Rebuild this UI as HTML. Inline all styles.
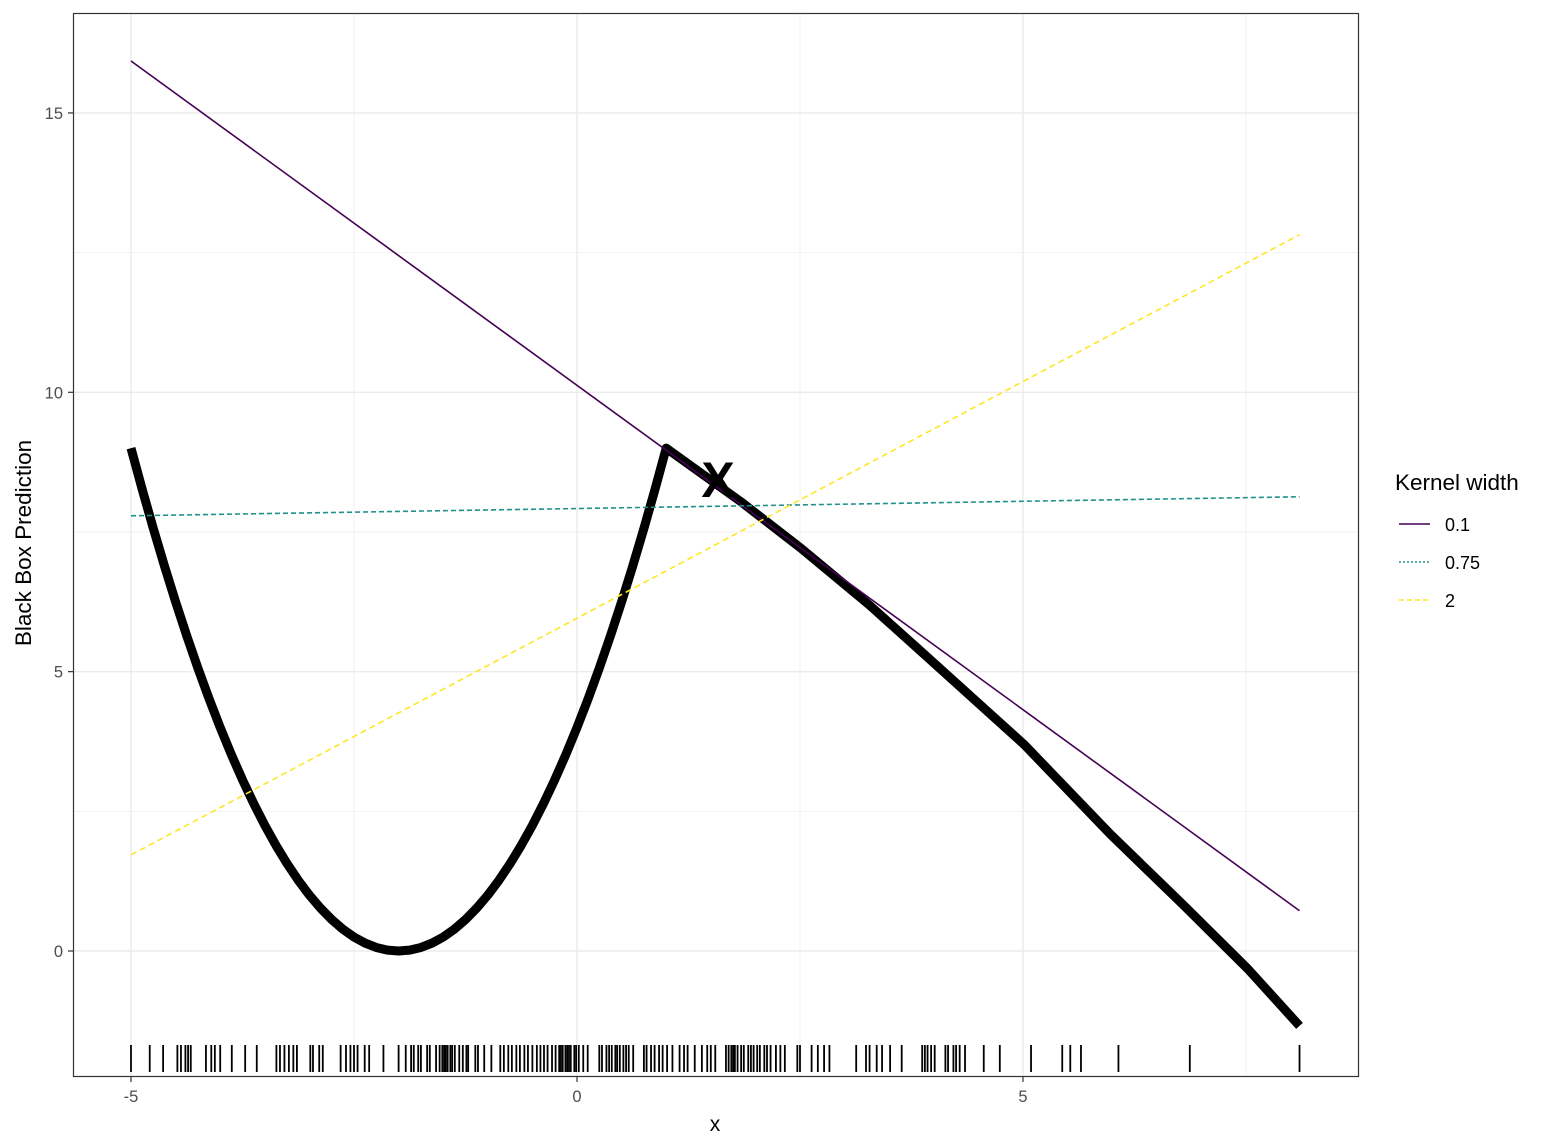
<!DOCTYPE html>
<html><head><meta charset="utf-8"><style>
body{margin:0;background:#fff;}
svg{display:block;font-family:"Liberation Sans",Arial,sans-serif;}
</style></head><body>
<svg id="chart" width="1554" height="1148">
<g id="grid"></g>
<g id="series"></g>
<g id="rug"></g>
<rect x="73.5" y="13.5" width="1285" height="1063" fill="none" stroke="#333" stroke-width="1.2"/>
<g id="axes"></g>
<text x="718" y="497" font-size="50" font-weight="bold" text-anchor="middle" fill="#000">X</text>
<text x="715" y="1131" font-size="21" text-anchor="middle" fill="#000">x</text>
<text transform="translate(31,543) rotate(-90)" font-size="22.5" text-anchor="middle" fill="#000">Black Box Prediction</text>
<g>
<text x="1395" y="490" font-size="22.5" fill="#000">Kernel width</text>
<g><line x1="1399" y1="524" x2="1430" y2="524" stroke="#440154" stroke-width="1.6"/><text x="1445" y="531" font-size="18">0.1</text></g>
<g><line x1="1399" y1="562" x2="1430" y2="562" stroke="#21908C" stroke-width="1.6" stroke-dasharray="2,2"/><text x="1445" y="569" font-size="18">0.75</text></g>
<g><line x1="1399" y1="600" x2="1430" y2="600" stroke="#FDE725" stroke-width="1.6" stroke-dasharray="5,3"/><text x="1445" y="607" font-size="18">2</text></g>
</g>
</svg>
<script>
const xTicks=[-5,0,5];
const xMinor=[-2.5,2.5,7.5];
const yTicks=[0,5,10,15];
const yMinor=[2.5,7.5,12.5];
const bbX=[-5,-4.875,-4.75,-4.625,-4.5,-4.375,-4.25,-4.125,-4,-3.875,-3.75,-3.625,-3.5,-3.375,-3.25,-3.125,-3,-2.875,-2.75,-2.625,-2.5,-2.375,-2.25,-2.125,-2,-1.875,-1.75,-1.625,-1.5,-1.375,-1.25,-1.125,-1,-0.875,-0.75,-0.625,-0.5,-0.375,-0.25,-0.125,0,0.125,0.25,0.375,0.5,0.625,0.75,0.875,1,1.83,2.51,3.28,3.9,5.01,5.98,6.8,7.52,8.1];
const bbY=[9,8.266,7.563,6.891,6.25,5.641,5.063,4.516,4,3.516,3.063,2.641,2.25,1.891,1.563,1.266,1,0.766,0.563,0.391,0.25,0.141,0.063,0.016,0,0.016,0.063,0.141,0.25,0.391,0.563,0.766,1,1.266,1.563,1.891,2.25,2.641,3.063,3.516,4,4.516,5.063,5.641,6.25,6.891,7.563,8.266,9,8.05,7.21,6.19,5.3,3.7,2.09,0.82,-0.32,-1.34];
const lineStartX=[-5,-5,-5];
const lineEndX=[8.1,8.1,8.1];
const lineStartY=[15.93,7.79,1.72];
const lineEndY=[0.72,8.13,12.82];
const widths=['0.1','0.75','2'];
const rugX=[-5.00,-4.79,-4.64,-4.48,-4.44,-4.39,-4.36,-4.33,-4.16,-4.10,-4.06,-4.00,-3.87,-3.72,-3.59,-3.37,-3.33,-3.28,-3.23,-3.18,-3.14,-2.99,-2.96,-2.89,-2.85,-2.65,-2.59,-2.54,-2.50,-2.46,-2.38,-2.33,-2.17,-2.00,-1.92,-1.86,-1.83,-1.78,-1.75,-1.68,-1.65,-1.58,-1.54,-1.51,-1.49,-1.47,-1.45,-1.42,-1.40,-1.37,-1.32,-1.28,-1.24,-1.22,-1.14,-1.11,-1.04,-0.96,-0.86,-0.82,-0.77,-0.73,-0.68,-0.64,-0.59,-0.55,-0.50,-0.45,-0.41,-0.37,-0.33,-0.28,-0.24,-0.20,-0.18,-0.16,-0.13,-0.11,-0.09,-0.07,-0.03,-0.01,0.02,0.07,0.12,0.25,0.28,0.33,0.36,0.39,0.43,0.45,0.48,0.52,0.55,0.58,0.63,0.75,0.78,0.83,0.87,0.92,0.96,1.01,1.07,1.15,1.20,1.24,1.32,1.40,1.46,1.50,1.55,1.67,1.70,1.73,1.75,1.77,1.80,1.84,1.87,1.92,1.95,1.98,2.02,2.05,2.10,2.13,2.17,2.23,2.28,2.33,2.47,2.50,2.63,2.70,2.77,2.83,3.13,3.24,3.28,3.36,3.42,3.51,3.64,3.87,3.90,3.93,3.97,4.01,4.13,4.16,4.22,4.25,4.29,4.35,4.56,4.74,5.09,5.44,5.53,5.65,6.07,6.87,8.10];

const NS='http://www.w3.org/2000/svg';
const sx=v=>577+v*89.2;
const sy=v=>951-v*55.87;
function mk(parent,tag,attrs){const e=document.createElementNS(NS,tag);for(const k in attrs)e.setAttribute(k,attrs[k]);document.getElementById(parent).appendChild(e);return e;}

xMinor.forEach(v=>{const e=mk('grid','line',{x1:sx(v),x2:sx(v),y1:14,y2:1076,stroke:'#f2f2f2','stroke-width':1});

});
yMinor.forEach(v=>{const e=mk('grid','line',{x1:74,x2:1358,y1:sy(v),y2:sy(v),stroke:'#f2f2f2','stroke-width':1});

});
xTicks.forEach(v=>{const e=mk('grid','line',{x1:sx(v),x2:sx(v),y1:14,y2:1076,stroke:'#ebebeb','stroke-width':1.4});


const t=mk('axes','line',{x1:sx(v),x2:sx(v),y1:1077,y2:1082,stroke:'#333','stroke-width':1.2});


const l=mk('axes','text',{x:sx(v),y:1102,'font-size':16.5,fill:'#4d4d4d','text-anchor':'middle'});l.textContent=v;

});
yTicks.forEach(v=>{const e=mk('grid','line',{x1:74,x2:1358,y1:sy(v),y2:sy(v),stroke:'#ebebeb','stroke-width':1.4});


const t=mk('axes','line',{x1:68,x2:73,y1:sy(v),y2:sy(v),stroke:'#333','stroke-width':1.2});


const l=mk('axes','text',{x:63,y:sy(v)+6,'font-size':16.5,fill:'#4d4d4d','text-anchor':'end'});l.textContent=v;

});

const bb=mk('series','polyline',{points:bbX.map((x,i)=>sx(x)+','+sy(bbY[i])).join(' '),fill:'none',stroke:'#000','stroke-width':9,'stroke-linejoin':'round'});


const cols=['#440154','#21908C','#FDE725'];const dash=['none','5,3','6,4'];
widths.forEach((w,i)=>{const e=mk('series','line',{x1:sx(lineStartX[i]),y1:sy(lineStartY[i]),x2:sx(lineEndX[i]),y2:sy(lineEndY[i]),stroke:cols[i],'stroke-width':1.6,'stroke-dasharray':dash[i]});

});
rugX.forEach(v=>{const e=mk('rug','line',{x1:sx(v),x2:sx(v),y1:1045,y2:1072,stroke:'#000','stroke-width':1.8});

});
</script>
</body></html>
